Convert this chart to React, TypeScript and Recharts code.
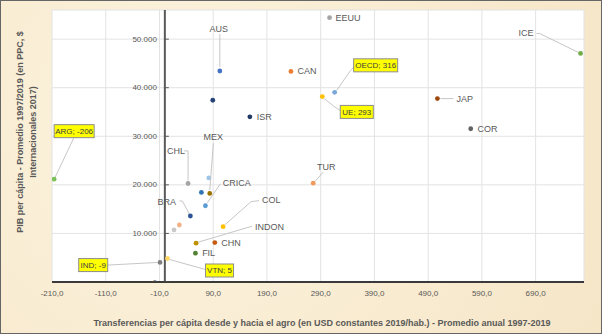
import React from 'react';
import { ScatterChart, Scatter, XAxis, YAxis, CartesianGrid, ReferenceLine } from 'recharts';

// country codes ('' = point without a label)
const countries = ['EEUU', 'AUS', '', 'ISR', 'CAN', 'OECD', 'UE', 'ICE', 'JAP', 'COR', 'ARG', 'IND', 'VTN', 'CHL', '', '', 'MEX', 'CRICA', 'BRA', '', '', 'COL', 'INDON', 'CHN', 'FIL', 'TUR'];
// transfers per capita, USD 2019/hab.
const transfers = [306.5, 102.3, 89.2, 158.2, 234.6, 316, 293, 773.6, 507.2, 569.2, -206, -9, 5, 43.2, 81.8, 68, 83.6, 75.5, 47.5, 27, 17.1, 108.4, 58.1, 93, 56.9, 276.1];
// GDP per capita, PPP $ 2017
const gdp = [54420, 43440, 37420, 34010, 43360, 39050, 38170, 47050, 37760, 31550, 21170, 4020, 4840, 20280, 21430, 18440, 18240, 15700, 13590, 11740, 10720, 11400, 7990, 8110, 5940, 20350];

const xTicks = [-210, -110, -10, 90, 190, 290, 390, 490, 590, 690];
const yTicks = [0, 10000, 20000, 30000, 40000, 50000];
const boxed = ['OECD', 'UE', 'ARG', 'IND', 'VTN'];

const colors = ['#a5a5a5', '#4472c4', '#264478', '#203864', '#ed7d31', '#7ba7da', '#ffc000', '#70ad47', '#9e480e', '#636363', '#7cc05a', '#7f7f7f', '#ffd966', '#a5a5a5', '#9dc3e6', '#2e75b6', '#997300', '#5b9bd5', '#2f5597', '#f4b183', '#c9c9c9', '#ffc000', '#bf9000', '#c55a11', '#548235', '#f19a5d'];

const FONT = '"Liberation Sans", Arial, sans-serif';

// label placement, pixel offsets from the point
type Lay = { dx: number; dy: number; anchor?: 'start' | 'middle' | 'end'; leader?: number[][]; w?: number };
const layout: Record<string, Lay> = {
  EEUU: { dx: 6, dy: 0 },
  AUS: { dx: -1, dy: -42, anchor: 'middle', leader: [[0, -37], [0, -4]] },
  ISR: { dx: 7, dy: 0 },
  CAN: { dx: 6.5, dy: 0 },
  OECD: { dx: 41, dy: -27, w: 44, leader: [[2, -2], [16, -22], [19, -25]] },
  UE: { dx: 34.5, dy: 15.3, w: 33, leader: [[2, 2], [12, 10], [18, 14]] },
  ICE: { dx: -47, dy: -20, anchor: 'end', leader: [[-44, -20], [-41, -20], [-2, -1]] },
  JAP: { dx: 19, dy: 0, leader: [[3, 0], [16, 0]] },
  COR: { dx: 6.7, dy: 0 },
  ARG: { dx: 20, dy: -48, w: 40, leader: [[1, -2], [20, -42]] },
  IND: { dx: -66.8, dy: 2.6, w: 29, leader: [[-3, 0], [-52, 2.6]] },
  VTN: { dx: 52, dy: 12, w: 28, leader: [[2, 1], [38, 11]] },
  CHL: { dx: -12, dy: -32.6, anchor: 'middle', leader: [[-4, -32.6], [0, -32.6], [0, -3]] },
  MEX: { dx: 3.6, dy: -56, anchor: 'middle', leader: [[3.6, -50], [0, -3]] },
  CRICA: { dx: 17.4, dy: -22.4, leader: [[15, -22], [2, -3]] },
  BRA: { dx: -14.3, dy: -14.3, anchor: 'end', leader: [[-11, -15], [-8, -15], [-1, -2]] },
  COL: { dx: 39, dy: -26.7, leader: [[36, -26], [28, -25], [2, -2]] },
  INDON: { dx: 59, dy: -16.6, leader: [[56, -17], [2, -1]] },
  CHN: { dx: 6.5, dy: 0 },
  FIL: { dx: 6.7, dy: 0 },
  TUR: { dx: 13, dy: -16.3, anchor: 'middle', leader: [[10, -11], [2, -2]] },
};

const data = countries.map((name, i) => ({ name, x: transfers[i], y: gdp[i], idx: i }));

const fmtX = (v: number) => v.toFixed(1).replace('.', ',');
const fmtY = (v: number) => String(v).replace(/\B(?=(\d{3})+(?!\d))/g, '.');

// y-axis tick labels sit next to the x = 0 axis
const yLabelData = yTicks.map((v) => ({ x: 0, y: v, label: fmtY(v) }));

const Point = (props: any) => {
  const { cx, cy, payload } = props;
  const lay = layout[payload.name];
  const isBox = boxed.includes(payload.name);
  const text = isBox ? `${payload.name}; ${Math.round(payload.x)}` : payload.name;
  return (
    <g>
      {lay && lay.leader && (
        <polyline
          points={lay.leader.map(([a, b]) => `${cx + a},${cy + b}`).join(' ')}
          fill="none"
          stroke="#bfbfbf"
          strokeWidth={0.9}
        />
      )}
      <circle cx={cx} cy={cy} r={2.4} fill={colors[payload.idx]} />
      {lay && isBox && (
        <g>
          <rect x={cx + lay.dx - (lay.w || 30) / 2} y={cy + lay.dy - 6.5} width={lay.w} height={13} fill="#ffff00" stroke="#8c8c8c" strokeWidth={1} />
          <text x={cx + lay.dx} y={cy + lay.dy + 0.5} textAnchor="middle" dominantBaseline="central" fontSize={8} fill="#404040" fontFamily={FONT}>
            {text}
          </text>
        </g>
      )}
      {lay && !isBox && (
        <text x={cx + lay.dx} y={cy + lay.dy} textAnchor={lay.anchor || 'start'} dominantBaseline="central" fontSize={9} fill="#595959" fontFamily={FONT}>
          {text}
        </text>
      )}
    </g>
  );
};

const YTickLabel = (props: any) => {
  const { cx, cy, payload } = props;
  return (
    <g>
      <line x1={cx} y1={cy} x2={cx + 4} y2={cy} stroke="#595959" strokeWidth={1} />
      <text x={cx - 8} y={cy} textAnchor="end" dominantBaseline="central" fontSize={8} fill="#595959" fontFamily={FONT}>
        {payload.label}
      </text>
    </g>
  );
};

export default function App() {
  return (
    <div
      style={{
        position: 'absolute',
        left: 0,
        top: 0,
        width: 602,
        height: 334,
        boxSizing: 'border-box',
        border: '1.5px solid #666',
        background: 'radial-gradient(circle at 30% 40%, #fcf3df 0%, #f8ebd0 60%, #f6e6c8 100%)',
        fontFamily: FONT,
      }}
    >
      <div style={{ position: 'absolute', left: -1.5, top: -1.5 }}>
        <ScatterChart width={602} height={334} margin={{ top: 10, right: 18, left: 52, bottom: 0 }}>
          <CartesianGrid fill="#ffffff" stroke="#e3e3e3" strokeWidth={1} />
          <XAxis
            type="number"
            dataKey="x"
            domain={[-210, 780]}
            ticks={xTicks}
            tickFormatter={fmtX}
            tickLine={false}
            axisLine={{ stroke: '#3a3a3a', strokeWidth: 2 }}
            tick={{ fontSize: 8, fill: '#595959', fontFamily: FONT }}
            height={52}
            allowDataOverflow
          />
          <YAxis type="number" dataKey="y" domain={[0, 56000]} ticks={yTicks} hide allowDataOverflow />
          <ReferenceLine x={0} stroke="#595959" strokeWidth={2} />
          <Scatter data={yLabelData} shape={<YTickLabel />} isAnimationActive={false} />
          <Scatter data={data} shape={<Point />} isAnimationActive={false} />
        </ScatterChart>
      </div>
      <div
        style={{
          position: 'absolute',
          left: 321,
          top: 322,
          transform: 'translate(-50%, -50%)',
          whiteSpace: 'nowrap',
          fontSize: 9,
          fontWeight: 'bold',
          color: '#595959',
        }}
      >
        Transferencias per cápita desde y hacia el agro (en USD constantes 2019/hab.) - Promedio anual 1997-2019
      </div>
      <div
        style={{
          position: 'absolute',
          left: 26,
          top: 131,
          width: 240,
          transform: 'translate(-50%, -50%) rotate(-90deg)',
          textAlign: 'center',
          fontSize: 9,
          lineHeight: '13px',
          fontWeight: 'bold',
          color: '#595959',
        }}
      >
        PIB per cápita - Promedio 1997/2019 (en PPC, $
        <br />
        Internacionales 2017)
      </div>
    </div>
  );
}
